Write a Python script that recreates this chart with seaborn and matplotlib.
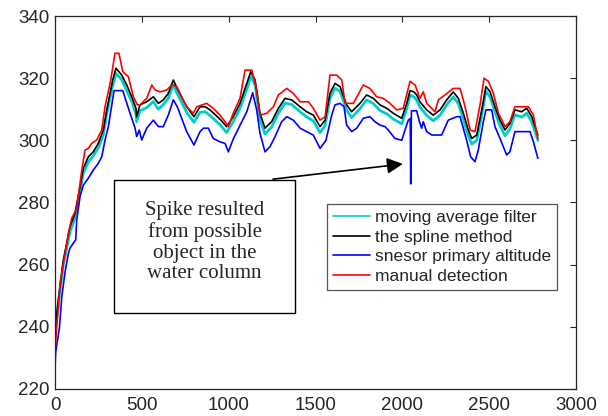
import numpy as np
import pandas as pd
import matplotlib
matplotlib.use("Agg")
import matplotlib.pyplot as plt
import seaborn as sns
from matplotlib.patches import Rectangle

# moving average filter (cyan)
mavg_x = [0, 6, 19, 48, 86, 115, 144, 163, 192, 220, 249, 278, 298, 332, 351, 384, 413, 442, 466, 470, 489,
          528, 566, 595, 623, 652, 681, 704, 758, 800, 835, 864, 892, 950, 988, 1026, 1065, 1104, 1127,
          1152, 1180, 1209, 1247, 1286, 1324, 1363, 1411, 1449, 1487, 1526, 1555, 1583, 1612, 1641, 1679,
          1708, 1756, 1794, 1833, 1871, 1910, 1948, 1996, 2025, 2044, 2066, 2082, 2101, 2140, 2178, 2217,
          2255, 2293, 2322, 2351, 2380, 2399, 2428, 2457, 2481, 2505, 2533, 2562, 2591, 2619, 2648, 2687,
          2716, 2745, 2780]
mavg_y = [239, 241, 247.5, 260, 270.5, 275, 283.5, 289.5, 293, 295, 297.5, 301.8, 308.5, 317.5, 321.5,
          319.5, 316, 312.5, 308.5, 306, 309.5, 310.5, 312.5, 310, 311.5, 313.5, 317.8, 315, 309, 305.8,
          309, 309.2, 308, 305, 302.5, 306, 310.3, 316.5, 320.5, 317.8, 306.8, 302, 304.3, 308.7, 312,
          311.5, 309.2, 307.5, 306.3, 302.5, 304.7, 313.5, 316.7, 315.8, 309.7, 307.3, 310.2, 313, 311.8,
          309.6, 308.5, 306.8, 305.3, 310.2, 314.5, 314, 312.9, 310.7, 308, 306.3, 308.1, 311.4, 314,
          311.8, 306.9, 301.4, 298.8, 300, 308.2, 315.7, 314, 309.2, 304.7, 301.5, 303.7, 308.2, 307.5,
          308.7, 305.9, 300]

# spline method (black)
spline_x = [0, 6, 19, 48, 86, 115, 144, 163, 192, 220, 249, 278, 298, 332, 351, 384, 413, 442, 466, 470,
            489, 528, 566, 595, 623, 652, 681, 704, 758, 800, 835, 864, 892, 950, 988, 1026, 1065, 1104,
            1127, 1152, 1180, 1209, 1247, 1286, 1324, 1363, 1411, 1449, 1487, 1526, 1555, 1583, 1612,
            1641, 1679, 1708, 1756, 1794, 1833, 1871, 1910, 1948, 1996, 2025, 2044, 2066, 2082, 2101,
            2140, 2178, 2217, 2255, 2293, 2322, 2351, 2380, 2399, 2428, 2457, 2481, 2505, 2533, 2562,
            2591, 2619, 2648, 2687, 2716, 2745, 2780]
spline_y = [240, 242.2, 248.6, 261.5, 272.2, 276.5, 285.1, 291, 294.7, 296.3, 299, 303.3, 309.8, 319.4,
            323.2, 321, 317.8, 314, 310.3, 307.6, 311.4, 312.4, 314, 311.9, 313, 315.1, 319.4, 316.6,
            310.8, 307.6, 310.8, 310.8, 309.8, 306.8, 304.4, 307.6, 311.9, 318.3, 322.1, 319.4, 308.7,
            303.9, 306, 310.3, 313.5, 313, 310.8, 309.2, 308.1, 304.4, 306.5, 315.1, 318.3, 317.3, 311.4,
            309.2, 311.9, 314.6, 313.5, 311.4, 310.3, 308.7, 307.1, 311.9, 316, 315.6, 314.6, 312.4,
            309.8, 308.1, 309.8, 313, 315.6, 313.5, 308.7, 303.3, 300.6, 301.7, 309.8, 317.3, 315.6,
            310.8, 306.5, 303.3, 305.5, 309.8, 309.2, 310.3, 307.6, 301.7]

# sensor primary altitude (blue)
sensor_x = [0, 4, 25, 39, 58, 77, 86, 119, 125, 144, 163, 192, 220, 249, 269, 288, 307, 340, 390, 432,
            461, 470, 485, 499, 528, 566, 595, 623, 652, 681, 704, 758, 800, 835, 854, 883, 911, 950, 979,
            998, 1026, 1065, 1104, 1138, 1161, 1180, 1209, 1238, 1267, 1305, 1334, 1372, 1411, 1449,
            1487, 1526, 1560, 1593, 1612, 1641, 1664, 1679, 1708, 1737, 1775, 1813, 1842, 1871, 1900,
            1919, 1957, 1996, 2015, 2034, 2045, 2048, 2052, 2082, 2101, 2111, 2120, 2140, 2169, 2226,
            2264, 2313, 2332, 2370, 2393, 2418, 2437, 2466, 2481, 2514, 2533, 2562, 2600, 2619, 2648,
            2735, 2754, 2780]
sensor_y = [227, 232, 239.5, 249.7, 257.7, 263.6, 265.3, 268, 274.4, 281.9, 285.6, 287.8, 290.4, 292.6,
            294.7, 300.1, 304.4, 316, 316, 308.7, 303.9, 301.2, 303.3, 300.1, 303.9, 306.5, 304.4, 304.4,
            308.1, 313, 310.8, 302.8, 298.5, 302.8, 303.9, 303.9, 300.6, 299.5, 299, 296.3, 300.4, 304.8,
            309.2, 315.3, 309.8, 302.3, 296.3, 298, 301.2, 306, 307.6, 306.5, 303.9, 302.8, 301.7, 297.4,
            300, 308.1, 311.4, 311.9, 310.8, 304.9, 302.8, 303.9, 307.1, 307.6, 306, 304.9, 304.4, 303.3,
            300.6, 300, 303.3, 306.5, 307, 286, 309.5, 309.5, 305.5, 303.9, 306, 302.8, 301.7, 301.7,
            306.5, 307.6, 307.6, 300, 294.7, 293.1, 296.9, 306, 309.8, 309.8, 304.4, 300.6, 295.3, 296.3,
            302.8, 302.8, 299.6, 294.2]

# manual detection (red)
manual_x = [0, 29, 58, 77, 96, 125, 154, 173, 192, 211, 240, 269, 288, 321, 345, 368, 390, 422, 451, 474,
            489, 528, 557, 576, 605, 643, 672, 701, 729, 758, 796, 816, 873, 911, 950, 979, 998, 1026,
            1065, 1094, 1133, 1161, 1180, 1219, 1257, 1286, 1334, 1372, 1411, 1459, 1487, 1526, 1555,
            1583, 1622, 1651, 1670, 1718, 1775, 1813, 1852, 1890, 1929, 1967, 2005, 2044, 2073, 2101,
            2120, 2140, 2188, 2207, 2245, 2293, 2332, 2361, 2390, 2418, 2447, 2470, 2495, 2524, 2553,
            2591, 2619, 2648, 2726, 2754, 2780]
manual_y = [232.5, 254, 263.6, 270, 274.9, 278.1, 290.4, 296.9, 297.4, 299, 300.1, 303.3, 310.8, 319.4,
            328, 328, 322.1, 320.5, 314, 311.4, 311.4, 313.5, 317.8, 316.2, 315.6, 316.2, 317.8, 317.3,
            314, 310.8, 308.7, 310.8, 311.9, 310.3, 308.1, 306, 304.4, 308.7, 313.5, 322.6, 322.6, 316.2,
            308.1, 308.7, 310.8, 314.6, 316.7, 315.1, 312.4, 312.4, 310.3, 306.5, 307.6, 321, 321, 319.4,
            311.9, 311.9, 317.8, 316.7, 314, 313.5, 311.9, 309.8, 310.3, 319, 317.8, 313.5, 315.6, 311.9,
            309.2, 313, 314.6, 316.7, 316.7, 310.8, 303.3, 302.8, 311.4, 320, 319, 315.1, 308.7, 304.4,
            306, 310.8, 310.8, 308.1, 300.6]

labels = ['moving average filter', 'the spline method', 'snesor primary altitude', 'manual detection']
colors = ['#00CCCC', '#000000', '#0000FF', '#FF0000']
x_ticks = [0, 500, 1000, 1500, 2000, 2500, 3000]
y_ticks = [220, 240, 260, 280, 300, 320, 340]
note = 'Spike resulted\nfrom possible\nobject in the\nwater column'

df = pd.concat([
    pd.DataFrame({'x': mavg_x, 'y': mavg_y, 'series': labels[0]}),
    pd.DataFrame({'x': spline_x, 'y': spline_y, 'series': labels[1]}),
    pd.DataFrame({'x': sensor_x, 'y': sensor_y, 'series': labels[2]}),
    pd.DataFrame({'x': manual_x, 'y': manual_y, 'series': labels[3]}),
], ignore_index=True)

sns.set_theme(style="white")
plt.rcParams['font.family'] = ['Liberation Sans', 'DejaVu Sans']

fig = plt.figure(figsize=(6.08, 4.16), dpi=100)
ax = fig.add_axes([0.0905, 0.065, 0.857, 0.8965])

sns.lineplot(data=df, x='x', y='y', hue='series', hue_order=labels,
             palette=dict(zip(labels, colors)), estimator=None, sort=False,
             linewidth=1.2, ax=ax)
# the moving average shows as a wider band under the spline line
ax.lines[0].set_linewidth(2.0)

ax.set_xlim(0, 3000)
ax.set_ylim(220, 340)
ax.set_xticks(x_ticks)
ax.set_yticks(y_ticks)
ax.set_xlabel('')
ax.set_ylabel('')
ax.tick_params(direction='in', length=4, width=0.8, colors='#262626',
               labelsize=13.5, top=True, right=True, pad=4)
ax.tick_params(axis='x', pad=6)
for sp in ax.spines.values():
    sp.set_color('#262626')
    sp.set_linewidth(0.9)

# annotation box and arrow pointing at the spike
ax.add_patch(Rectangle((340, 244.4), 1042, 42.8, facecolor='white', edgecolor='black',
                       linewidth=1.0, zorder=5))
ax.text(861, 267.2, note, ha='center', va='center', fontsize=15, linespacing=1.12,
        family=['Liberation Serif', 'DejaVu Serif'], zorder=6)
ax.annotate('', xy=(2003, 292.4), xytext=(1255, 287.5),
            arrowprops=dict(arrowstyle='-|>', mutation_scale=24, lw=1.2, color='black',
                            shrinkA=0, shrinkB=0), zorder=6)

leg = ax.legend(loc='upper left', bbox_to_anchor=(0.522, 0.496), fontsize=12.5,
                frameon=True, fancybox=False, framealpha=1, edgecolor='#555555',
                handlelength=2.1, handletextpad=0.3, labelspacing=0.25, borderpad=0.35,
                borderaxespad=0)
leg.get_frame().set_linewidth(0.9)
for h in leg.get_lines():
    h.set_linewidth(1.2)
leg.set_zorder(7)

fig.savefig('out.png', dpi=100)
